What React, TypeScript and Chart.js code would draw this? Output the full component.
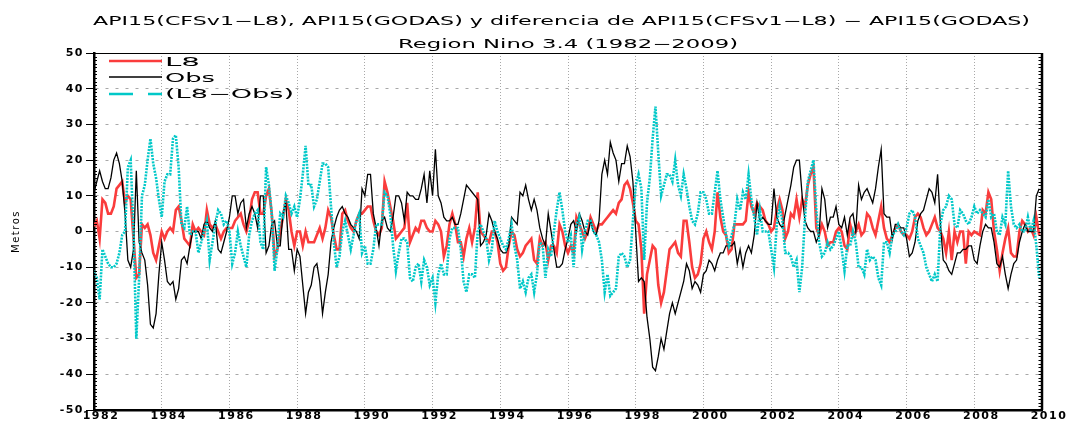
import React, { useEffect, useRef } from 'react';
import { Chart, registerables } from 'chart.js';

Chart.register(...registerables);

// ---------- data (monthly, Jan 1982 .. Dec 2009) ----------
const startYear = 1982;
const xTickYears = [1982, 1984, 1986, 1988, 1990, 1992, 1994, 1996, 1998, 2000, 2002, 2004, 2006, 2008, 2010];
const yTickValues = [-50, -40, -30, -20, -10, 0, 10, 20, 30, 40, 50];

const titleLine1 = 'API15(CFSv1\u2212L8), API15(GODAS) y diferencia de API15(CFSv1\u2212L8) \u2212 API15(GODAS)';
const titleLine2 = 'Region Nino 3.4 (1982\u22122009)';
const yAxisTitle = 'Metros';
const seriesNames = ['L8', 'Obs', '(L8\u2212Obs)'];

const l8Values = [
  1.5, 3, -2, 9, 8, 5, 5, 7, 12, 13, 14, 8,
  10, 9, -2, -13, -12, 2, 1, 2, -1, -6, -8, -4,
  0, -2, 0, 1, 0, 6, 7, 3, -2, -3, -4, 2,
  0, 1, 0, -1, 6, 2, 1, 2, 0, -2, 0, 1,
  1, 1, 3, 4, 5, 2, 0, 3, 9, 11, 11, 5,
  5, 10, 12, 5, -7, -5, 0, 4, 9, 6, 0, -4,
  0, 0, -4, 0, -3, -3, -3, -1, 1, -2, 1, 6,
  4, -1, -5, -5, 5, 6, 3, 1, 0, 3, 5, 5,
  6, 7, 7, 3, 0, -1, 1, 14, 11, 7, 3, -2,
  -1, 0, 1, 8, -3, -1, 1, 0, 3, 3, 1, 0,
  0, 3, 2, 0, -7, -4, 2, 5, 2, -3, -3, -7,
  -2, 1, -3, 1, 11, 0, -1, -2, -3, 0, 0, -3,
  -9, -11, -10, -4, 0, -1, -5, -7, -6, -4, -3, -2,
  -8, -9, -2, -4, -3, -8, -4, -4, -6, 2, 0, -4,
  -6, -4, -6, 4, 2, 0, -2, 0, 4, 2, 0, 2,
  2, 3, 4, 5, 6, 5, 8, 9, 13, 14, 12, 8,
  3, 2, -5, -23, -12, -8, -4, -5, -15, -20, -17, -11,
  -5, -4, -3, -6, -7, 3, 3, -3, -10, -13, -12, -9,
  -2, 0, -3, -5, 0, 11, 4, 0, -1, -6, -5, 2,
  2, 2, 2, 3, 11, 7, 5, 8, 7, 6, 3, 2,
  0, 1, 6, 9, 6, -2, 0, 5, 4, 9, 4, 9,
  7, 13, 16, 18, 1, -1, 2, 0, -4, -3, -3, 0,
  1, 0, -4, -5, 2, -1, 0, 2, -1, 0, 5, 4,
  1, -1, 3, 7, 1, -2, -3, -1, 1, 2, 0, -1,
  -1, -2, 0, 4, 5, 4, 1, -1, 0, 2, 4, 1,
  0, -2, -6, 0, -8, 0, -3, 0, 0, -9, 0, -1,
  0, -0.5, -1, 6, 5, 11, 9, 0, -5, -11, -6, -2,
  1, -6, -7, -7, 0, 3, 2, 0, 1, -1, 4, -1,
];

const obsValues = [
  11, 14, 17, 14, 12, 12, 15, 20, 22, 19, 14, 5,
  -8, -10, -5, 17, -3, -6, -8, -15, -26, -27, -23, -12,
  -3, -8, -14, -15, -14, -19, -16, -8, -7, -9, -4, 0,
  0, 0, -2, 2, 3, 1, 0, 3, -5, -6, -3, 0,
  4, 10, 10, 5, 8, 9, 1, 5, 7, 5, 1, 10,
  10, -6, -4, 2, 3, -4, -4, 5, 8, -5, -5, -11,
  -5, -7, -15, -23, -17, -15, -10, -9, -14, -23, -17, -12,
  -3, 1, 4, 6, 7, 5, 4, 2, 1, 0, -2, 12,
  10, 16, 16, 5, 1, -4, 3, 4, 1, 0, 4, 10,
  10, 8, 3, 11, 10, 10, 9, 9, 12, 16, 8, 17,
  10, 23, 10, 8, 4, 3, 3, 4, 2, 2, 5, 9,
  13, 12, 11, 10, 9, -4, -3, -1, 5, 3, 0, -2,
  -5, -6, -6, -4, 4, 3, 2, 11, 10, 13, 9, 6,
  9, 6, 1, -2, -4, 5, 0, -5, -10, -10, -9, -5,
  -2, 2, 3, 0, 5, 3, 0, -1, 3, 0, -1, 3,
  16, 20, 16, 25, 22, 20, 14, 19, 19, 24, 21, 14,
  0, -14, -13, -14, -24, -30, -38, -39, -35, -30, -33, -28,
  -23, -20, -23, -20, -17, -14, -9, -11, -16, -14, -15, -17,
  -12, -11, -8, -9, -11, -8, -6, -6, -4, -4, -4, -3,
  -9, -5, -10, -6, -4, -6, -1, 8, 3, 4, 3, 2,
  2, 12, 4, 2, 1, 5, 9, 13, 18, 20, 20, 10,
  3, 1, 0, 0, -3, -1, 12, 9, 1, 4, 4, 7,
  2, 1, 4, -1, 4, 5, 0, 13, 9, 11, 12, 10,
  8, 12, 18, 23, 5, 4, 4, -2, 2, 2, 1, 1,
  -2, -7, -6, -3, 3, 5, 6, 9, 12, 11, 8, 16,
  2, -8, -9, -11, -12, -9, -6, -6, -5, -5, -4, -4,
  -8, -9, -4, 0, 2, 1, 1, -3, -9, -10, -7, -12,
  -16, -12, -9, -8, -3, 0, 2, 0, 0, 0, 10, 12,
];

const diffValues = [
  -11, -13, -19, -5, -7, -9, -10, -10, -9, -6, -1, 0,
  18, 20, 0, -30, -13, 10, 13, 20, 26, 19, 15, 9,
  4, 14, 16, 16, 26, 27, 18, 2, 1, 7, -1, 0,
  0, -6, -3, 0, 3, -8, -3, 2, 6, 5, 2, 3,
  0, -9, -6, 0, -4, -7, -10, -1, 3, 5, 6, -3,
  -5, 18, 13, 5, -11, -5, 5, 4, 10, 8, 5, 7,
  4, 9, 16, 24, 13, 13, 7, 9, 14, 19, 19, 18,
  7, -3, -10, -7, 0, 3, -1, -5, -1, 3, 5, -6,
  -4, -9, -9, -5, 2, 2, 2, 11, 10, 5, -4, -11,
  -6, -2, -2, -3, -13, -14, -10, -9, -14, -8, -10, -15,
  -13, -20, -12, -9, -12, -12, -2, 1, 1, 1, -5, -14,
  -17, -12, -12, -13, 0, 2, 0, -2, -8, -5, 3, 0,
  -2, -4, -5, -2, 2, -4, -8, -16, -14, -17, -13, -12,
  -17, -12, -3, -4, -13, -5, -7, 0, 6, 11, 6, 0,
  -3, -1, -10, 2, 4, -5, 0, 3, 3, 0, -1, -3,
  -8, -17, -12, -18, -17, -16, -7, -6, -7, -10, -8, 3,
  13, 16, 12, -8, 8, 15, 26, 35, 22, 10, 13, 16,
  16, 14, 20, 13, 10, 16, 12, 7, 3, 2, 5, 11,
  11, 9, 5, 5, 11, 17, 9, 4, -1, -4, -1, 2,
  9, 6, 11, 9, 16, 9, 4, -1, 6, 0, 0, 0,
  -5, -10, 2, 7, 3, -6, -6, -7, -10, -8, -17, -10,
  4, 14, 17, 20, 6, -3, -7, -6, -3, -5, -4, -2,
  0, -5, -11, -4, -4, 0, -3, -10, -10, -12, -5, -8,
  -7, -8, -13, -15, -3, -3, -6, -1, 0, 2, 0, -1,
  1, 5, 6, 4, -2, -4, -6, -10, -12, -14, -12, -14,
  2, 6, 7, 10, 9, 2, 1, 6, 5, 3, 2, 4,
  7, 5, 6, 5, 4, 9, 4, 5, 0, -1, 4, 2,
  17, 7, 2, 1, 2, 0, 0, 4, 0, 3, -4, -13,
];

// ---------- styles ----------
const RED = '#fa3c3c';
const CYAN = '#00c8c8';
const GRID = '#a8a8a8';
const TICK_FONT = 'DejaVu Sans';
const legendTextWidths = [35, 50, 129];

function drawFitText(
  ctx: CanvasRenderingContext2D,
  text: string,
  x: number,
  baseline: number,
  width: number,
  font: string,
  align: 'left' | 'center'
) {
  ctx.save();
  (ctx as any).letterSpacing = '0px';
  ctx.font = font;
  ctx.fillStyle = '#000';
  ctx.textBaseline = 'alphabetic';
  ctx.textAlign = 'left';
  const w = ctx.measureText(text).width;
  const left = align === 'center' ? x - width / 2 : x;
  ctx.translate(left, baseline);
  ctx.scale(width / w, 1);
  ctx.fillText(text, 0, 0);
  ctx.restore();
}

const gradsPlugin = {
  id: 'gradsDecor',
  beforeUpdate(chart: any) {
    chart.ctx.letterSpacing = '1.5px';
  },
  beforeDraw(chart: any) {
    const ctx = chart.ctx;
    ctx.save();
    ctx.fillStyle = '#fff';
    ctx.fillRect(0, 0, chart.width, chart.height);
    ctx.restore();
    ctx.letterSpacing = '1.5px';
  },
  afterDraw(chart: any) {
    const ctx: CanvasRenderingContext2D = chart.ctx;
    const a = chart.chartArea;
    const ys = chart.scales.y;
    ctx.save();
    (ctx as any).letterSpacing = '0px';
    ctx.strokeStyle = '#000';
    // top frame
    ctx.lineWidth = 1;
    ctx.beginPath();
    ctx.moveTo(a.left, a.top + 0.5);
    ctx.lineTo(a.right, a.top + 0.5);
    ctx.stroke();
    // right frame (thick)
    ctx.lineWidth = 2.5;
    ctx.beginPath();
    ctx.moveTo(a.right, a.top);
    ctx.lineTo(a.right, a.bottom);
    ctx.stroke();
    // minor ticks on left and right axes
    ctx.lineWidth = 1;
    ctx.beginPath();
    for (let v = -50; v <= 50; v++) {
      const py = Math.round(ys.getPixelForValue(v)) + 0.5;
      ctx.moveTo(a.left, py);
      ctx.lineTo(a.left + 3, py);
      ctx.moveTo(a.right, py);
      ctx.lineTo(a.right - 3.5, py);
    }
    ctx.stroke();

    // legend (top-left, inside plot)
    const rowsY = [61, 77, 94];
    const baselines = [65.5, 81.5, 98];
    chart.data.datasets.forEach((ds: any, i: number) => {
      ctx.save();
      ctx.strokeStyle = ds.borderColor;
      ctx.lineWidth = i === 1 ? 1.5 : 2.6;
      if (i === 2) ctx.setLineDash([24, 15]);
      ctx.beginPath();
      ctx.moveTo(109, rowsY[i]);
      ctx.lineTo(162, rowsY[i]);
      ctx.stroke();
      ctx.restore();
      drawFitText(ctx, ds.label, 165, baselines[i], legendTextWidths[i], '500 12px "DejaVu Sans"', 'left');
    });
    ctx.restore();

    // titles
    drawFitText(ctx, titleLine1, 561.5, 25, 937, '12px "DejaVu Sans"', 'center');
    drawFitText(ctx, titleLine2, 568, 48, 340, '12px "DejaVu Sans"', 'center');
  },
};

export default function App() {
  const canvasRef = useRef<HTMLCanvasElement | null>(null);

  useEffect(() => {
    if (!canvasRef.current) return;
    const monthPositions = l8Values.map((_, i) => startYear + i / 12);
    const chart = new Chart(canvasRef.current, {
      type: 'line',
      data: {
        labels: monthPositions,
        datasets: [
          {
            label: seriesNames[0],
            data: l8Values,
            borderColor: RED,
            backgroundColor: RED,
            borderWidth: 2.6,
            pointRadius: 0,
            tension: 0,
            order: 2,
          },
          {
            label: seriesNames[1],
            data: obsValues,
            borderColor: '#000000',
            backgroundColor: '#000000',
            borderWidth: 1.3,
            pointRadius: 0,
            tension: 0,
            order: 1,
          },
          {
            label: seriesNames[2],
            data: diffValues,
            borderColor: CYAN,
            backgroundColor: CYAN,
            borderWidth: 2.6,
            borderDash: [2, 1.2],
            pointRadius: 0,
            tension: 0,
            order: 0,
          },
        ],
      },
      options: {
        responsive: false,
        animation: false,
        devicePixelRatio: 1,
        layout: { padding: { top: 53, right: 25, bottom: 0, left: 0 } },
        plugins: {
          legend: { display: false },
          tooltip: { enabled: false },
          title: { display: false },
        },
        scales: {
          x: {
            type: 'linear',
            min: xTickYears[0],
            max: xTickYears[xTickYears.length - 1],
            afterFit: (scale: any) => {
              scale.height = 14;
            },
            ticks: {
              stepSize: 2,
              autoSkip: false,
              maxRotation: 0,
              padding: 0,
              labelOffset: 7,
              color: '#000',
              font: { family: TICK_FONT, weight: 'bold', size: 11 },
              callback: (v: any) => (xTickYears.includes(Number(v)) ? String(v) : ''),
            },
            grid: { color: GRID, lineWidth: 1, drawTicks: false },
            border: { display: true, color: '#000', width: 2.5, dash: [1, 2] },
          },
          y: {
            min: yTickValues[0],
            max: yTickValues[yTickValues.length - 1],
            afterFit: (scale: any) => {
              scale.width = 94;
            },
            ticks: {
              stepSize: 10,
              padding: 2,
              color: '#000',
              font: { family: TICK_FONT, weight: 'bold', size: 11 },
              callback: (v: any) => (yTickValues.includes(Number(v)) ? String(v) : ''),
            },
            grid: { color: GRID, lineWidth: 1, drawTicks: true, tickLength: 8, tickColor: '#000', tickWidth: 1 },
            border: { display: true, color: '#000', width: 2.5, dash: [3, 7] },
            title: {
              display: true,
              text: yAxisTitle,
              color: '#000',
              font: { family: 'DejaVu Sans', size: 10 },
              padding: { top: 10, bottom: 0 },
            },
          },
        },
      },
      plugins: [gradsPlugin],
    } as any);
    return () => chart.destroy();
  }, []);

  return (
    <div style={{ position: 'fixed', left: 0, top: 0, width: 1067, height: 424, background: '#fff' }}>
      <canvas ref={canvasRef} width={1067} height={424} style={{ display: 'block' }} />
    </div>
  );
}
